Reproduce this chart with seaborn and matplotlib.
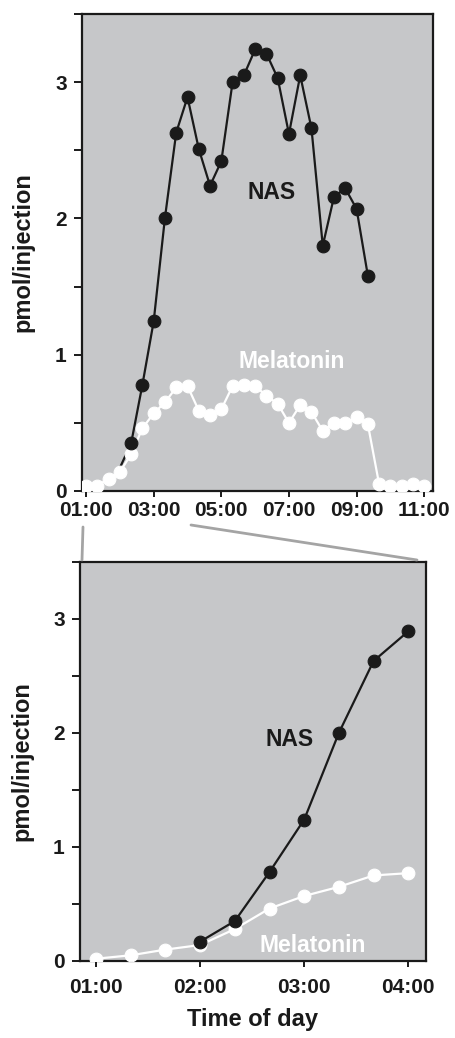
import numpy as np
import pandas as pd
import matplotlib
matplotlib.use("Agg")
import matplotlib.pyplot as plt
from matplotlib.lines import Line2D
import seaborn as sns

# ---------------- data ----------------
times_full = ["01:00", "01:20", "01:40", "02:00", "02:20", "02:40", "03:00", "03:20",
              "03:40", "04:00", "04:20", "04:40", "05:00", "05:20", "05:40", "06:00",
              "06:20", "06:40", "07:00", "07:20", "07:40", "08:00", "08:20", "08:40",
              "09:00", "09:20", "09:40", "10:00", "10:20", "10:40", "11:00"]
melatonin_full = [0.04, 0.04, 0.09, 0.14, 0.27, 0.46, 0.57, 0.65, 0.76, 0.77,
                  0.59, 0.56, 0.60, 0.77, 0.78, 0.77, 0.70, 0.64, 0.50, 0.63,
                  0.58, 0.44, 0.50, 0.50, 0.54, 0.49, 0.05, 0.04, 0.04, 0.05, 0.04]
nas_times_full = ["02:00", "02:20", "02:40", "03:00", "03:20", "03:40", "04:00",
                  "04:20", "04:40", "05:00", "05:20", "05:40", "06:00", "06:20",
                  "06:40", "07:00", "07:20", "07:40", "08:00", "08:20", "08:40",
                  "09:00", "09:20"]
nas_full = [0.17, 0.35, 0.78, 1.245, 2.005, 2.63, 2.89, 2.51, 2.24, 2.42, 3.00,
            3.05, 3.24, 3.21, 3.03, 2.62, 3.05, 2.66, 1.80, 2.16, 2.22, 2.07, 1.58]

times_zoom = ["01:00", "01:20", "01:40", "02:00", "02:20", "02:40", "03:00",
              "03:20", "03:40", "04:00"]
melatonin_zoom = [0.02, 0.05, 0.10, 0.14, 0.28, 0.46, 0.57, 0.65, 0.75, 0.77]
nas_times_zoom = ["02:00", "02:20", "02:40", "03:00", "03:20", "03:40", "04:00"]
nas_zoom = [0.17, 0.35, 0.78, 1.24, 2.00, 2.63, 2.89]

top_ticks = ["01:00", "03:00", "05:00", "07:00", "09:00", "11:00"]
bottom_ticks = ["01:00", "02:00", "03:00", "04:00"]
y_ticks = [0, 0.5, 1, 1.5, 2, 2.5, 3, 3.5]
y_ticklabels = ["0", "", "1", "", "2", "", "3", ""]


def hours(ts):
    return [int(t[:2]) + int(t[3:]) / 60 for t in ts]


mel_top = pd.DataFrame({"t": hours(times_full), "v": melatonin_full})
nas_top = pd.DataFrame({"t": hours(nas_times_full), "v": nas_full})
mel_bot = pd.DataFrame({"t": hours(times_zoom), "v": melatonin_zoom})
nas_bot = pd.DataFrame({"t": hours(nas_times_zoom), "v": nas_zoom})

# ---------------- style ----------------
sns.set_theme(style="ticks")
plt.rcParams["font.family"] = ["Liberation Sans", "DejaVu Sans"]
plt.rcParams["font.weight"] = "bold"
plt.rcParams["axes.labelweight"] = "bold"

BG = "#c6c7c9"
DARK = "#1a1a1a"
W = "#ffffff"
plt.rcParams["axes.labelcolor"] = DARK
plt.rcParams["text.color"] = DARK

fig = plt.figure(figsize=(4.56, 10.38), dpi=100)
ax1 = fig.add_axes([82 / 456, 1 - 491 / 1038, 351 / 456, 477 / 1038])
ax2 = fig.add_axes([80 / 456, 1 - 961 / 1038, 346 / 456, 399.3 / 1038])

for ax in (ax1, ax2):
    ax.set_facecolor(BG)
    for s in ax.spines.values():
        s.set_linewidth(1.6)
        s.set_color(DARK)
    ax.set_ylim(0, 3.5)
    ax.set_yticks(y_ticks)
    ax.set_yticklabels(y_ticklabels)
    ax.tick_params(axis="y", direction="out", length=6, width=1.4, pad=5,
                   labelsize=15, color=DARK, labelcolor=DARK)
    ax.tick_params(axis="x", direction="out", length=4, width=1.4,
                   labelsize=15, color=DARK, labelcolor=DARK)
    for lab in ax.get_xticklabels() + ax.get_yticklabels():
        lab.set_fontweight("bold")

MS = 9.2
LW = 1.6

# top panel
sns.lineplot(data=nas_top, x="t", y="v", ax=ax1, color=DARK, lw=LW, zorder=2)
sns.lineplot(data=mel_top, x="t", y="v", ax=ax1, color=W, lw=LW, marker="o",
             markersize=MS, markeredgecolor=W, markerfacecolor=W, zorder=3)
sns.lineplot(data=nas_top, x="t", y="v", ax=ax1, color=DARK, lw=0, marker="o",
             markersize=MS, markeredgecolor=DARK, markerfacecolor=DARK,
             markevery=slice(1, None), zorder=4)
ax1.set_xlim(0.88, 11.26)
ax1.set_xticks(hours(top_ticks))
ax1.set_xticklabels(top_ticks, fontweight="bold")
ax1.tick_params(axis="x", pad=3)
ax1.set_xlabel("")
ax1.set_ylabel("pmol/injection", fontsize=17, fontweight="bold", labelpad=15)
ax1.text(6.5, 2.19, "NAS", fontsize=16.5, fontweight="bold", color=DARK,
         ha="center", va="center")
ax1.text(7.09, 0.95, "Melatonin", fontsize=16.5, fontweight="bold", color=W,
         ha="center", va="center")

# bottom panel
sns.lineplot(data=mel_bot, x="t", y="v", ax=ax2, color=W, lw=LW, marker="o",
             markersize=MS, markeredgecolor=W, markerfacecolor=W, zorder=3)
sns.lineplot(data=nas_bot, x="t", y="v", ax=ax2, color=DARK, lw=LW, marker="o",
             markersize=MS, markeredgecolor=DARK, markerfacecolor=DARK, zorder=4)
ax2.set_xlim(0.846, 4.17)
ax2.set_xticks(hours(bottom_ticks))
ax2.set_xticklabels(bottom_ticks, fontweight="bold")
ax2.tick_params(axis="x", pad=8)
ax2.set_xlabel("Time of day", fontsize=17, fontweight="bold", labelpad=8)
ax2.set_ylabel("pmol/injection", fontsize=17, fontweight="bold", labelpad=14)
ax2.text(2.856, 1.94, "NAS", fontsize=16.5, fontweight="bold", color=DARK,
         ha="center", va="center")
ax2.text(3.077, 0.14, "Melatonin", fontsize=16.5, fontweight="bold", color=W,
         ha="center", va="center")

# connector lines between panels
CON = "#a4a4a4"
fig.add_artist(Line2D([83 / 456, 82 / 456], [1 - 527 / 1038, 1 - 560 / 1038],
                      transform=fig.transFigure, color=CON, lw=2))
fig.add_artist(Line2D([191 / 456, 417 / 456], [1 - 525 / 1038, 1 - 560 / 1038],
                      transform=fig.transFigure, color=CON, lw=2))

fig.savefig("out.png", dpi=100, facecolor="white")
